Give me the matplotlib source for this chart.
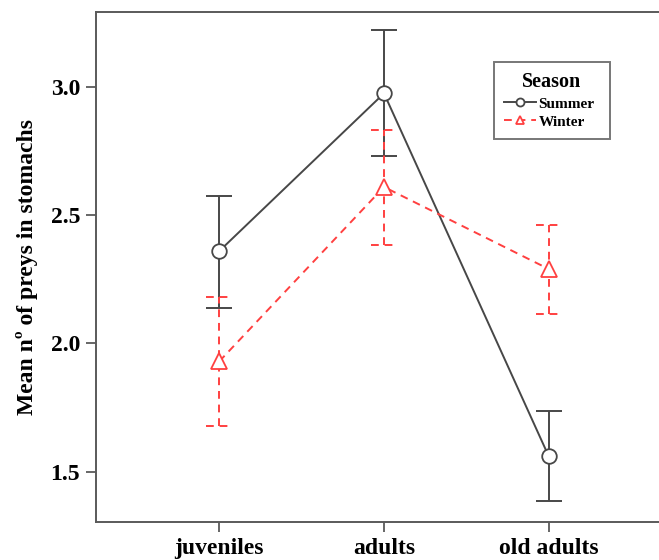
import matplotlib.pyplot as plt
import numpy as np

grupos = ['juveniles', 'adults', 'old adults']

verao = [2.36, 2.975, 1.56]
verao_sup = [2.575, 3.222, 1.735]
verao_inf = [2.140, 2.730, 1.385]

inverno = [1.93, 2.61, 2.29]
inverno_sup = [2.183, 2.833, 2.460]
inverno_inf = [1.680, 2.385, 2.115]

cinza = '#474747'
vermelho = '#ff4040'
fonte = 'Liberation Serif'

fig = plt.figure(figsize=(6.59, 5.6), dpi=100)
ax = fig.add_axes([96 / 659, 38 / 560, 576 / 659, 510.5 / 560])

x = np.arange(len(grupos))
cap = 0.079

# verao
ax.vlines(x, verao_inf, verao_sup, color=cinza, lw=1.4, zorder=2)
ax.hlines(verao_sup, x - cap, x + cap, color=cinza, lw=1.4, zorder=2)
ax.hlines(verao_inf, x - cap, x + cap, color=cinza, lw=1.4, zorder=2)
ax.plot(x, verao, color=cinza, lw=1.4, marker='o', ms=10.5, mfc='white',
        mec=cinza, mew=1.3, zorder=3, label='Summer')

# inverno
ax.vlines(x, inverno_inf, inverno_sup, color=vermelho, lw=1.4,
          linestyles=(0, (4, 3)), zorder=2)
ax.hlines(inverno_sup, x - cap, x + cap, color=vermelho, lw=1.4,
          linestyles=(0, (4, 3)), zorder=2)
ax.hlines(inverno_inf, x - cap, x + cap, color=vermelho, lw=1.4,
          linestyles=(0, (4, 3)), zorder=2)
ax.plot(x, inverno, color=vermelho, lw=1.4, ls=(0, (4, 3)), marker='^',
        ms=11.5, mfc='white', mec=vermelho, mew=1.3, zorder=3, label='Winter')

ax.set_xlim(-0.748, 2.748)
ax.set_ylim(1.304, 3.294)
ax.set_xticks(x)
ax.set_xticklabels(grupos, fontsize=17, fontweight='bold', family=fonte)
ax.set_yticks([1.5, 2.0, 2.5, 3.0])
ax.set_yticklabels(['1.5', '2.0', '2.5', '3.0'], fontsize=17,
                   fontweight='bold', family=fonte)
ax.set_ylabel('Mean nº of preys in stomachs', fontsize=17, fontweight='bold',
              family=fonte, labelpad=9)

for lado in ['left', 'bottom', 'top']:
    ax.spines[lado].set_color('#5a5a5a')
    ax.spines[lado].set_linewidth(1.4)
ax.spines['right'].set_visible(False)
ax.tick_params(axis='both', direction='out', length=7.5, width=1.3,
               color='#5a5a5a', pad=4)

leg = ax.legend(loc='upper left', bbox_to_anchor=(0.691, 0.0, 0.2014, 0.9005),
                mode='expand', title='Season', fancybox=False,
                edgecolor='#555555', handlelength=2.1, handletextpad=0.15,
                markerscale=0.55, borderpad=0.65, labelspacing=0.3,
                borderaxespad=0,
                prop={'family': fonte, 'weight': 'bold', 'size': 11})
leg.get_title().set_fontfamily(fonte)
leg.get_title().set_fontweight('bold')
leg.get_title().set_fontsize(14.5)
leg.get_frame().set_linewidth(1.4)

fig.savefig('out.png', dpi=100)
